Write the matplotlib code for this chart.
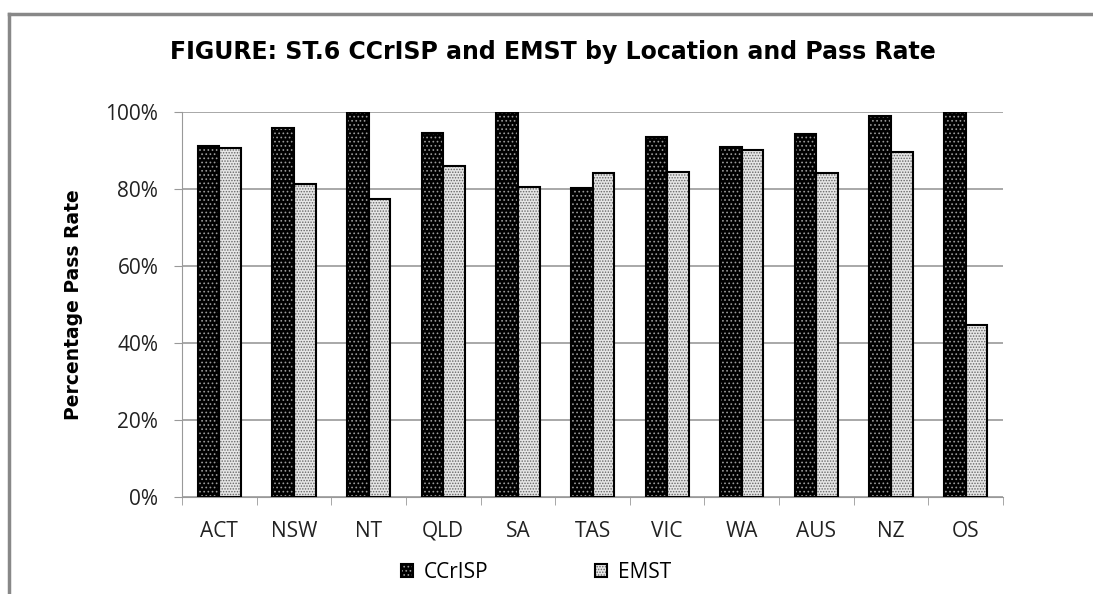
import numpy as np
import matplotlib
matplotlib.use('Agg')
import matplotlib.pyplot as plt
from matplotlib.legend_handler import HandlerTuple
from matplotlib.lines import Line2D

locations = ['ACT', 'NSW', 'NT', 'QLD', 'SA', 'TAS', 'VIC', 'WA', 'AUS', 'NZ', 'OS']
ccrisp = [91.3, 95.8, 100.0, 94.5, 100.0, 80.2, 93.5, 91.0, 94.2, 99.0, 100.0]
emst = [90.6, 81.2, 77.4, 86.1, 80.5, 84.2, 84.5, 90.2, 84.2, 89.6, 44.6]
series_names = ['CCrISP', 'EMST']
y_ticks = [0, 20, 40, 60, 80, 100]

plt.rcParams['hatch.linewidth'] = 0.7
tick_font = 'Open Sans'

fig = plt.figure(figsize=(10.93, 5.94), dpi=100)
ax = fig.add_axes([0.1665, 0.1633, 0.7512, 0.6481])

x = np.arange(len(locations))
w = 0.29

# hatch colour follows edgecolor, so draw fill+hatch first, outline on top
h1 = ax.bar(x - w/2, ccrisp, w, color='black', edgecolor='#9a9a9a',
            hatch='....', linewidth=0, zorder=3)
o1 = ax.bar(x - w/2, ccrisp, w, fill=False, edgecolor='black',
            linewidth=1.5, zorder=4)
h2 = ax.bar(x + w/2, emst, w, color='#e6e6e6', edgecolor='#666666',
            hatch='......', linewidth=0, zorder=3)
o2 = ax.bar(x + w/2, emst, w, fill=False, edgecolor='black',
            linewidth=1.5, zorder=4)

ax.set_xlim(-0.5, len(locations) - 0.5)
ax.set_ylim(0, 100)
ax.set_yticks(y_ticks)
ax.set_yticklabels(['{}%'.format(v) for v in y_ticks], fontsize=15,
                   family=tick_font, color='#222222')
ax.set_xticks(x)
ax.set_xticklabels(locations, fontsize=15, family=tick_font, color='#222222')
ax.set_xticks(np.arange(len(locations) + 1) - 0.5, minor=True)
ax.tick_params(axis='x', which='major', length=0, pad=17)
ax.tick_params(axis='x', which='minor', length=6, color='#999999', direction='out')
ax.tick_params(axis='y', length=6, color='#999999', direction='out', pad=11)

ax.grid(axis='y', color='#999999', linewidth=1.2, zorder=0)
ax.set_axisbelow(True)
for s in ['top', 'right']:
    ax.spines[s].set_visible(False)
ax.spines['left'].set_color('#999999')
ax.spines['bottom'].set_color('#999999')

ax.set_ylabel('Percentage Pass Rate', fontsize=13.5, fontweight='bold',
              family='DejaVu Sans')
ax.yaxis.set_label_coords(-0.121, 0.5)

fig.text(0.506, 0.913, 'FIGURE: ST.6 CCrISP and EMST by Location and Pass Rate',
         ha='center', va='center', fontsize=17, fontweight='bold',
         family='DejaVu Sans')

leg = ax.legend([(h1[0], o1[0]), (h2[0], o2[0])], series_names,
                handler_map={tuple: HandlerTuple(ndivide=1, pad=0)},
                loc='center', bbox_to_anchor=(0.431, -0.195), ncol=2,
                frameon=False, handlelength=0.6, handleheight=0.6,
                columnspacing=5.1, handletextpad=0.5,
                prop={'family': tick_font, 'size': 15})

# chart border (gray, left and top visible)
fig.add_artist(Line2D([0.0085, 0.0085], [0, 0.977], color='#888888', lw=2.5))
fig.add_artist(Line2D([0.0085, 1.0], [0.977, 0.977], color='#888888', lw=2.5))

fig.savefig('out.png', dpi=100)
